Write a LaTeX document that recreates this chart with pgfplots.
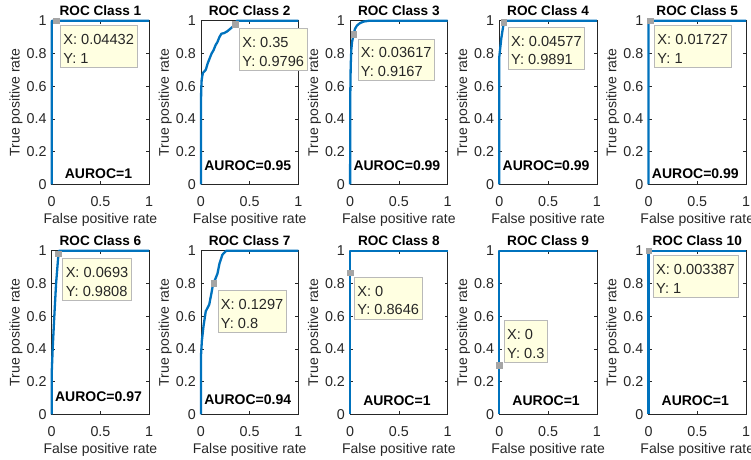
\documentclass[border=0pt]{standalone}
\usepackage{pgfplots}
\pgfplotsset{compat=1.18}
\usepackage{fontspec}
\setmainfont{Liberation Sans}
\definecolor{mblue}{RGB}{0,114,189}
\definecolor{axgray}{RGB}{38,38,38}
\definecolor{tipfill}{RGB}{255,255,225}
\definecolor{tipdraw}{RGB}{185,185,185}
\definecolor{mgray}{RGB}{165,165,165}
\pgfplotsset{
  every axis title/.style={at={(axis description cs:0.5,1.029)}, anchor=base, font=\bfseries\fontsize{13.6}{16}\selectfont},
  rocax/.style={
    anchor=south west, scale only axis, width=97.5pt, height=163.6pt,
    xmin=0, xmax=1, ymin=0, ymax=1, clip=false,
    xtick={0,0.5,1}, xticklabels={0,0.5,1},
    ytick={0,0.2,0.4,0.6,0.8,1}, yticklabels={0,0.2,0.4,0.6,0.8,1},
    tick align=inside, major tick length=3pt,
    every tick/.style={axgray, line width=0.5pt},
    axis line style={axgray, line width=0.6pt},
    tick label style={font=\fontsize{14.3}{16}\selectfont, text=axgray},
    xticklabel style={anchor=base, yshift=-21.7pt},
    yticklabel style={anchor=east, inner sep=0pt, xshift=-5pt},
    xlabel={False positive rate}, ylabel={True positive rate},
    label style={font=\fontsize{14}{16}\selectfont, text=axgray},
    xlabel style={at={(axis description cs:0.5,-0.238)}, anchor=base},
    ylabel style={at={(axis description cs:-0.366,0.5)}, anchor=center},
  },
  roc/.style={mblue, line width=2.3pt, line join=round},
  tipmark/.style={only marks, mark=square*, mark size=2.8pt, mark options={fill=mgray, draw=mgray}},
}
\newcommand{\tstrut}{\rule{0pt}{15pt}}
\tikzset{
  tip/.style={draw=tipdraw, fill=tipfill, line width=0.6pt, align=left, inner xsep=3pt, inner ysep=4pt,
    font=\fontsize{14.6}{18.7}\selectfont, text=black!85},
  auroc/.style={font=\bfseries\fontsize{14}{16}\selectfont, anchor=center},
}
\begin{document}
\begin{tikzpicture}[x=1pt,y=1pt]
% ---------- Row 1 ----------
\begin{axis}[rocax, at={(51.7pt,274.7pt)}, title={ROC Class 1}]
\addplot[roc] coordinates {(0,0) (0,0.99) (0.004,1) (1,1)};
\addplot[tipmark] coordinates {(0.04432,1)};
\node[tip, anchor=north west, xshift=4pt, yshift=-4.3pt] at (axis cs:0.04432,1) {\tstrut X: 0.04432\\Y: 1};
\node[auroc] at (axis cs:0.48,0.063) {AUROC=1};
\end{axis}
\begin{axis}[rocax, at={(200.9pt,274.7pt)}, title={ROC Class 2}]
\addplot[roc] coordinates {(0,0) (0,0.45) (0.003,0.58) (0.008,0.64) (0.02,0.68) (0.05,0.70) (0.07,0.74) (0.09,0.77) (0.11,0.80) (0.13,0.82) (0.15,0.85) (0.17,0.87) (0.19,0.90) (0.21,0.92) (0.24,0.925) (0.27,0.935) (0.3,0.95) (0.33,0.965) (0.35,0.9796) (0.37,1) (1,1)};
\addplot[tipmark] coordinates {(0.35,0.9796)};
\node[tip, anchor=north west, xshift=4pt, yshift=-4.3pt] at (axis cs:0.35,0.9796) {\tstrut X: 0.35\\Y: 0.9796};
\node[auroc] at (axis cs:0.48,0.114) {AUROC=0.95};
\end{axis}
\begin{axis}[rocax, at={(350.1pt,274.7pt)}, title={ROC Class 3}]
\addplot[roc] coordinates {(0,0) (0.002,0.55) (0.006,0.72) (0.012,0.82) (0.02,0.87) (0.03617,0.9167) (0.05,0.95) (0.07,0.97) (0.1,0.985) (0.14,0.995) (0.2,1) (1,1)};
\addplot[tipmark] coordinates {(0.03617,0.9167)};
\node[tip, anchor=north west, xshift=4pt, yshift=-4.3pt] at (axis cs:0.03617,0.9167) {\tstrut X: 0.03617\\Y: 0.9167};
\node[auroc] at (axis cs:0.48,0.114) {AUROC=0.99};
\end{axis}
\begin{axis}[rocax, at={(499.3pt,274.7pt)}, title={ROC Class 4}]
\addplot[roc] coordinates {(0,0) (0,0.78) (0.02,0.89) (0.04577,0.9891) (0.05,1) (1,1)};
\addplot[tipmark] coordinates {(0.04577,0.9891)};
\node[tip, anchor=north west, xshift=4pt, yshift=-4.3pt] at (axis cs:0.04577,0.9891) {\tstrut X: 0.04577\\Y: 0.9891};
\node[auroc] at (axis cs:0.48,0.116) {AUROC=0.99};
\end{axis}
\begin{axis}[rocax, at={(648.5pt,274.7pt)}, title={ROC Class 5}]
\addplot[roc] coordinates {(0,0) (0,0.99) (0.004,1) (1,1)};
\addplot[tipmark] coordinates {(0.01727,1)};
\node[tip, anchor=north west, xshift=4pt, yshift=-4.3pt] at (axis cs:0.01727,1) {\tstrut X: 0.01727\\Y: 1};
\node[auroc] at (axis cs:0.48,0.063) {AUROC=0.99};
\end{axis}
% ---------- Row 2 ----------
\begin{axis}[rocax, at={(51.7pt,44.7pt)}, title={ROC Class 6}]
\addplot[roc] coordinates {(0,0) (0,0.25) (0.01,0.40) (0.025,0.58) (0.045,0.80) (0.0693,0.9808) (0.075,1) (1,1)};
\addplot[tipmark] coordinates {(0.0693,0.9808)};
\node[tip, anchor=north west, xshift=4pt, yshift=-4.3pt] at (axis cs:0.0693,0.9808) {\tstrut X: 0.0693\\Y: 0.9808};
\node[auroc] at (axis cs:0.48,0.107) {AUROC=0.97};
\end{axis}
\begin{axis}[rocax, at={(200.9pt,44.7pt)}, title={ROC Class 7}]
\addplot[roc] coordinates {(0,0) (0,0.35) (0.01,0.45) (0.027,0.54) (0.05,0.63) (0.085,0.67) (0.105,0.73) (0.12,0.78) (0.1297,0.8) (0.15,0.83) (0.17,0.86) (0.19,0.92) (0.22,0.975) (0.26,1) (1,1)};
\addplot[tipmark] coordinates {(0.1297,0.8)};
\node[tip, anchor=north west, xshift=4pt, yshift=-7pt] at (axis cs:0.1297,0.8) {\tstrut X: 0.1297\\Y: 0.8};
\node[auroc] at (axis cs:0.48,0.088) {AUROC=0.94};
\end{axis}
\begin{axis}[rocax, at={(350.1pt,44.7pt)}, title={ROC Class 8}]
\addplot[roc] coordinates {(0,0) (0,1) (1,1)};
\addplot[tipmark] coordinates {(0,0.8646)};
\node[tip, anchor=north west, xshift=4pt, yshift=-4pt] at (axis cs:0,0.8646) {\tstrut X: 0\\Y: 0.8646};
\node[auroc] at (axis cs:0.48,0.083) {AUROC=1};
\end{axis}
\begin{axis}[rocax, at={(499.3pt,44.7pt)}, title={ROC Class 9}]
\addplot[roc] coordinates {(0,0) (0,1) (1,1)};
\addplot[tipmark] coordinates {(0,0.3)};
\node[tip, anchor=south west, xshift=4.5pt, yshift=2.4pt] at (axis cs:0,0.3) {\tstrut X: 0\\Y: 0.3};
\node[auroc] at (axis cs:0.48,0.083) {AUROC=1};
\end{axis}
\begin{axis}[rocax, at={(648.5pt,44.7pt)}, title={ROC Class 10}]
\addplot[roc] coordinates {(0,0) (0,1) (1,1)};
\addplot[tipmark] coordinates {(0.003387,1)};
\node[tip, anchor=north west, xshift=4pt, yshift=-4.3pt] at (axis cs:0.003387,1) {\tstrut X: 0.003387\\Y: 1};
\node[auroc] at (axis cs:0.48,0.083) {AUROC=1};
\end{axis}
\pgfresetboundingbox
\useasboundingbox (0pt,0pt) rectangle (751pt,459pt);
\end{tikzpicture}
\end{document}
